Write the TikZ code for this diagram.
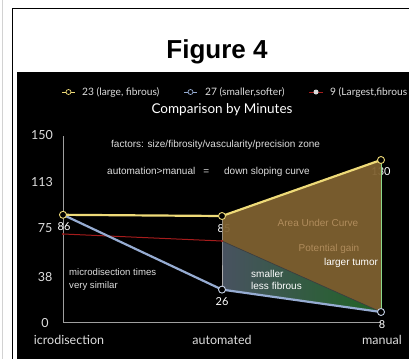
\documentclass[tikz,border=0pt]{standalone}
\usepackage{fontspec}
\setmainfont{Liberation Sans}
\newfontfamily\gill{Lato}
\definecolor{ylw}{RGB}{238,218,120}
\definecolor{blu}{RGB}{150,172,210}
\definecolor{rd}{RGB}{165,28,28}
\definecolor{brn}{RGB}{127,97,48}
\definecolor{brntxt}{RGB}{176,140,92}
\definecolor{grnR}{RGB}{32,100,38}
\definecolor{grnL}{RGB}{72,82,96}
\definecolor{txtgray}{RGB}{222,222,222}
\tikzset{
  ymark/.style={circle, draw=ylw, fill=black, line width=0.9pt, inner sep=0pt, minimum size=7pt},
  bmark/.style={circle, draw=blu!55!white, fill=black, line width=0.9pt, inner sep=0pt, minimum size=7pt},
  rmark/.style={circle, fill=rd, inner sep=0pt, minimum size=2.4pt},
  axlab/.style={font=\gill\fontsize{12.5}{14}\selectfont, text=txtgray, inner sep=0pt},
  numlab/.style={font=\gill\fontsize{11}{13}\selectfont, text=white, inner sep=0pt},
  leg/.style={font=\gill\fontsize{10.2}{12}\selectfont, text=txtgray, inner sep=0pt, anchor=west},
  note/.style={font=\fontsize{10}{12.5}\selectfont, text=txtgray, inner sep=0pt},
  legy/.style={circle, draw=ylw, fill=black, line width=0.7pt, inner sep=0pt, minimum size=5pt},
  legb/.style={circle, draw=blu, fill=black, line width=0.7pt, inner sep=0pt, minimum size=5pt},
  legr/.style={circle, fill=gray!30!white, inner sep=0pt, minimum size=5pt},
}
\begin{document}
\begin{tikzpicture}[x=1pt,y=-1pt]
\useasboundingbox (0,0) rectangle (409,359);
\fill[white] (0,0) rectangle (409,359);
\draw[gray!35, line width=1.6pt] (2.5,0) -- (2.5,359);
\draw[black, line width=0.8pt] (12,359) -- (12,8) -- (409,8);
\node[font=\bfseries\fontsize{26}{30}\selectfont, inner sep=0pt] (title) at (217,52) {Figure 4};
\fill[black] (17,72) rectangle (409,359);

% legend
\coordinate (l1a) at (62,92); \coordinate (l1b) at (75,92);
\draw[ylw, line width=0.8pt] (l1a) -- (l1b);
\node[legy] (l1) at (68.5,92) {};
\node[leg] (lt1) at (82,92) {23 (large, fibrous)};
\coordinate (l2a) at (184,92); \coordinate (l2b) at (197,92);
\draw[blu, line width=0.8pt] (l2a) -- (l2b);
\node[legb] (l2) at (190.5,92) {};
\node[leg] (lt2) at (205,92) {27 (smaller,softer)};
\coordinate (l3a) at (309,92); \coordinate (l3b) at (323,92);
\draw[rd, line width=0.8pt] (l3a) -- (l3b);
\node[legr] (l3) at (316,92) {};
\node[leg] (lt3) at (330,92) {9 (Largest,fibrous};

\node[font=\gill\fontsize{13.5}{16}\selectfont, text=white, inner sep=0pt] (ctitle) at (222,110) {Comparison by Minutes};

% axes
\coordinate (ytop) at (63,136);
\coordinate (orig) at (63,322);
\coordinate (xend) at (381,322);
\draw[gray!75, line width=0.6pt] (ytop) -- (orig) -- (xend);

\node[axlab] (y150) at (42,135) {150};
\node[axlab] (y113) at (42,182) {113};
\node[axlab] (y75) at (45,228) {75};
\node[axlab] (y38) at (45,277) {38};
\node[axlab] (y0) at (45,323) {0};
\node[axlab] (x1) at (69,340) {icrodisection};
\node[axlab] (x2) at (222,340) {automated};
\node[axlab] (x3) at (382,340) {manual};

% notes
\node[note, anchor=west] (n1) at (111,145) {factors: size/fibrosity/vascularity/precision zone};
\node[note, anchor=west] (n2) at (107,172) {automation>manual\hspace{8pt}=\hspace{15pt}down sloping curve};
\node[note, anchor=west, align=left, font=\fontsize{9.6}{13}\selectfont] (n3) at (69,279.5) {microdisection times\\very similar};

% data points
\coordinate (Y0) at (63,214.8);
\coordinate (A1) at (222,216);
\coordinate (M1) at (381,160);
\coordinate (B2) at (222,289.6);
\coordinate (M3) at (381,312);
\coordinate (R0) at (63,234);
\coordinate (R2) at (222,241);

% value labels (partly covered by fills)
\node[numlab] (v86) at (64,227) {86};
\node[numlab] (v85) at (224,228.5) {85};
\node[numlab] (v130) at (381,172) {130};
\node[numlab] (v26) at (222,302) {26};
\node[numlab] (v8) at (382,324.5) {8};

% areas
\fill[brn, opacity=0.94] (A1) -- (M1) -- (M3) -- (R2) -- cycle;
\shade[left color=grnL, right color=grnR] (R2) -- (M3) -- (B2) -- cycle;
\draw[gray!65, line width=0.6pt] (A1) -- (R2) -- (B2);
\draw[gray!50!green!60!white, line width=0.7pt] (M1) -- (M3);
\draw[black!75, line width=0.7pt] (R2) -- (M3);

\node[font=\fontsize{10}{12}\selectfont, text=brntxt, inner sep=0pt] (auc) at (318,223) {Area Under Curve};
\node[font=\fontsize{10}{12}\selectfont, text=brntxt, inner sep=0pt] (pg) at (329,249) {Potential gain};
\node[font=\fontsize{10}{12}\selectfont, text=white, inner sep=0pt] (lt) at (351,263) {larger tumor};
\node[font=\fontsize{10}{12.5}\selectfont, text=white, inner sep=0pt, anchor=west, align=left] (slf) at (251,280) {smaller\\less fibrous};

% series lines
\draw[rd, line width=1pt] (R0) -- (R2);
\draw[blu, line width=2.2pt, line join=round] (Y0) -- (B2) -- (M3);
\draw[ylw, line width=2.2pt, line join=round] (Y0) -- (A1) -- (M1);

% markers
\node[rmark] (r0m) at (R0) {};
\node[rmark] (r2m) at (R2) {};
\node[bmark] (b2m) at (B2) {};
\node[bmark] (m3m) at (M3) {};
\node[ymark] (y0m) at (Y0) {};
\node[ymark] (a1m) at (A1) {};
\node[ymark] (m1m) at (M1) {};
\end{tikzpicture}
\end{document}
